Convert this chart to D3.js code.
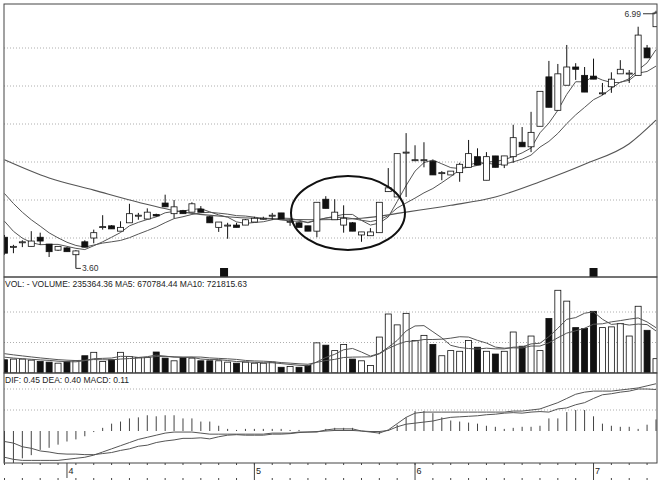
<!DOCTYPE html>
<html><head><meta charset="utf-8">
<script src="https://cdn.jsdelivr.net/npm/d3@7/dist/d3.min.js"></script>
<style>body{margin:0;background:#fff}svg{display:block}text{font-family:"Liberation Sans",Arial,sans-serif}</style>
</head><body><svg id="c" width="660" height="483"></svg>
<script>
const opens  =[4.01,3.88,3.95,3.89,4.01,3.92,3.84,3.87,3.78,3.95,4.00,4.14,4.16,4.09,4.20,4.29,4.25,4.31,4.46,4.32,4.36,4.34,4.38,4.28,4.14,4.16,4.17,4.17,4.21,4.25,4.30,4.33,4.21,4.20,4.16,4.09,4.51,4.24,4.17,4.20,4.04,4.03,4.07,4.61,4.54,5.12,5.03,5.03,5.01,4.86,4.83,4.86,4.93,5.07,4.76,5.08,4.96,5.07,5.26,5.20,5.47,6.12,5.68,6.01,6.25,6.14,6.13,5.91,5.99,6.16,6.17,6.14,6.50,6.78];
const closes =[3.80,3.89,3.95,3.96,3.96,3.82,3.89,3.82,3.83,3.88,4.07,4.15,4.12,4.14,4.32,4.30,4.34,4.29,4.41,4.41,4.32,4.45,4.34,4.20,4.21,4.17,4.14,4.24,4.26,4.26,4.30,4.25,4.22,4.14,4.09,4.47,4.39,4.34,4.26,4.09,4.08,4.08,4.47,4.66,5.11,5.13,5.03,5.03,4.83,4.86,4.88,4.97,5.11,4.96,5.07,4.93,5.08,5.32,5.20,5.39,5.93,5.72,6.16,6.25,6.22,5.92,6.09,5.91,6.09,6.22,6.17,6.67,6.37,6.96];
const highs  =[4.04,3.91,3.97,4.09,4.07,3.92,3.89,3.88,3.84,3.97,4.11,4.30,4.17,4.22,4.45,4.33,4.39,4.32,4.57,4.50,4.37,4.47,4.42,4.29,4.21,4.20,4.20,4.25,4.28,4.28,4.33,4.33,4.24,4.21,4.16,4.47,4.55,4.51,4.43,4.21,4.08,4.13,4.47,4.92,5.11,5.38,5.22,5.26,5.03,4.88,4.88,4.99,5.29,5.18,5.13,5.08,5.08,5.49,5.46,5.66,5.93,6.33,6.29,6.54,6.30,6.25,6.36,6.04,6.18,6.34,6.21,6.78,6.54,6.99];
const lows   =[3.78,3.80,3.88,3.89,3.91,3.75,3.83,3.82,3.60,3.88,3.93,4.11,4.12,4.09,4.20,4.24,4.25,4.28,4.41,4.26,4.32,4.34,4.34,4.20,4.08,3.99,4.14,4.17,4.21,4.24,4.24,4.25,4.16,4.14,4.09,4.01,4.39,4.24,4.07,4.09,3.95,4.03,4.07,4.61,4.54,4.54,5.01,4.93,4.83,4.76,4.83,4.74,4.93,4.96,4.76,4.93,4.92,4.99,5.20,5.13,5.47,5.72,5.68,6.01,6.08,5.92,6.09,5.88,5.91,6.16,6.04,6.14,6.37,6.78];
const priorCloses=[5.20,5.10,4.95,4.80,4.70,4.55,4.40,4.25,4.10];
// long moving average read at sample candles
const longMaIdx=[0,5,10,15,20,25,30,35,40,45,50,55,60,65,70,73];
const longMaVal=[5.03,4.79,4.63,4.47,4.34,4.28,4.25,4.24,4.26,4.34,4.43,4.54,4.74,4.97,5.24,5.55];
const priorVolumes=[420,400,380,350,320,300,280,260,240];
const volumes=[217,228,228,211,189,178,161,189,200,283,339,189,217,339,272,256,256,344,244,200,256,244,200,200,200,178,161,178,161,161,178,94,106,94,122,494,456,367,467,228,200,122,589,967,789,978,533,617,467,283,367,356,533,422,356,311,356,672,439,606,367,894,1356,1178,744,728,1011,744,756,811,606,1094,700,235];
const dif=[-0.25,-0.27,-0.28,-0.28,-0.28,-0.28,-0.28,-0.27,-0.26,-0.25,-0.23,-0.20,-0.17,-0.14,-0.11,-0.08,-0.06,-0.04,-0.02,-0.01,-0.01,-0.01,-0.02,-0.03,-0.03,-0.03,-0.03,-0.03,-0.03,-0.03,-0.02,-0.02,-0.02,-0.01,-0.01,-0.01,0.01,0.02,0.02,0.02,0.00,-0.01,-0.02,0.01,0.07,0.13,0.17,0.18,0.18,0.18,0.18,0.18,0.18,0.18,0.18,0.18,0.18,0.19,0.19,0.20,0.21,0.24,0.27,0.31,0.35,0.37,0.38,0.38,0.38,0.39,0.40,0.41,0.43,0.45];
const macd=[-0.30,-0.31,-0.26,-0.23,-0.18,-0.16,-0.13,-0.10,-0.08,-0.05,-0.01,0.03,0.07,0.09,0.12,0.13,0.15,0.14,0.15,0.15,0.12,0.12,0.09,0.09,0.05,0.02,0.01,0.02,0.02,0.02,0.02,0.02,0.01,0.01,0.00,-0.01,0.02,0.03,0.03,0.03,0.00,-0.01,-0.03,0.01,0.06,0.13,0.19,0.19,0.17,0.13,0.10,0.09,0.08,0.07,0.05,0.04,0.02,0.03,0.04,0.04,0.05,0.12,0.12,0.18,0.20,0.20,0.14,0.07,0.05,0.04,0.04,0.02,0.06,0.11];
const priceGrid=[4.0,4.5,5.0,5.5,6.0,6.5];
const volGrid=[500,1000];
const macdGrid=[0.2,0.4];
const monthLabels=[{i:7,t:"4"},{i:28,t:"5"},{i:46,t:"6"},{i:66,t:"7"}];
const markerIdx=[24.6,66];
const volTitle="VOL: -   VOLUME: 235364.36  MA5: 670784.44  MA10: 721815.63";
const macdTitle="DIF: 0.45  DEA: 0.40  MACD: 0.11";

const svg=d3.select("#c");
const L=4,R=657;
const n=closes.length;
const x=d3.scaleLinear().domain([0,n-1]).range([4.5,656]);
const y=d3.scaleLinear().domain([4,7]).range([238,10]);
const yv=d3.scaleLinear().domain([0,1000]).range([373,312]);
const ym=d3.scaleLinear().domain([0,0.4]).range([431,389]);
const gray="#555";
const defs=svg.append("defs");
[["cm",4,277],["cv",277,373],["cmd",373,463]].forEach(([id,t,b])=>defs.append("clipPath").attr("id",id).append("rect").attr("x",L).attr("y",t).attr("width",R-L).attr("height",b-t));

function grid(g,vals,sc){g.selectAll(null).data(vals).join("line").attr("x1",L).attr("x2",R).attr("y1",d=>sc(d)).attr("y2",d=>sc(d)).attr("stroke","#999").attr("stroke-dasharray","1,2").attr("stroke-width",0.8);}
function ma(arr,k,prior){const all=(prior||[]).concat(arr),off=(prior||[]).length;return arr.map((_,i)=>{const j=i+off;const s=all.slice(Math.max(0,j-k+1),j+1);return d3.mean(s);});}

// main
const gm=svg.append("g").attr("clip-path","url(#cm)");
grid(gm,priceGrid,y);
const line=d3.line().x((d,i)=>x(i)).y(d=>y(d));
[ma(closes,5,priorCloses),ma(closes,10,priorCloses)].forEach(a=>gm.append("path").attr("d",line(a)).attr("fill","none").attr("stroke",gray).attr("stroke-width",1));
gm.append("path").attr("d",d3.line().x((d,k)=>x(longMaIdx[k])).y(d=>y(d)).curve(d3.curveMonotoneX)(longMaVal)).attr("fill","none").attr("stroke",gray).attr("stroke-width",1.1);
const cw=6;
closes.forEach((c,i)=>{
  const o=opens[i],up=c>=o;
  gm.append("line").attr("x1",x(i)).attr("x2",x(i)).attr("y1",y(highs[i])).attr("y2",y(lows[i])).attr("stroke","#111");
  const top=y(Math.max(o,c)),bot=y(Math.min(o,c));
  gm.append("rect").attr("x",x(i)-cw/2).attr("y",top).attr("width",cw).attr("height",Math.max(1,bot-top)).attr("fill",up?"#fff":"#111").attr("stroke","#111").attr("stroke-width",0.8);
});
markerIdx.forEach(m=>gm.append("rect").attr("x",x(m)-4).attr("y",268).attr("width",8).attr("height",9).attr("fill","#111"));
const li=lows.indexOf(d3.min(lows));
gm.append("path").attr("d",`M${x(li)},${y(lows[li])}h5`).attr("stroke","#333");
gm.append("text").attr("x",x(li)+6).attr("y",y(lows[li])+3).attr("font-size",8.5).attr("fill","#333").text(d3.min(lows).toFixed(2));
const hi=highs.indexOf(d3.max(highs));
gm.append("path").attr("d",`M${x(hi)-13},${y(highs[hi])+3}h12v-2`).attr("stroke","#333").attr("fill","none");
gm.append("text").attr("x",x(hi)-15).attr("y",y(highs[hi])+6).attr("text-anchor","end").attr("font-size",8.5).attr("fill","#333").text(d3.max(highs).toFixed(2));
svg.append("ellipse").attr("cx",348).attr("cy",213).attr("rx",57).attr("ry",37).attr("fill","none").attr("stroke","#111").attr("stroke-width",2);

// volume
const gv=svg.append("g").attr("clip-path","url(#cv)");
grid(gv,volGrid,yv);
volumes.forEach((v,i)=>{const up=closes[i]>=opens[i];gv.append("rect").attr("x",x(i)-cw/2).attr("y",yv(v)).attr("width",cw).attr("height",yv(0)-yv(v)).attr("fill",up?"#fff":"#111").attr("stroke","#111").attr("stroke-width",0.8);});
const lv=d3.line().x((d,i)=>x(i)).y(d=>yv(d));
[ma(volumes,5,priorVolumes),ma(volumes,10,priorVolumes)].forEach(a=>gv.append("path").attr("d",lv(a)).attr("fill","none").attr("stroke",gray).attr("stroke-width",1));
svg.append("text").attr("x",5).attr("y",287).attr("font-size",8.5).attr("fill","#222").text(volTitle);

// macd
const gd=svg.append("g").attr("clip-path","url(#cmd)");
grid(gd,macdGrid,ym);
macd.forEach((v,i)=>gd.append("line").attr("x1",x(i)).attr("x2",x(i)).attr("y1",ym(0)).attr("y2",ym(v)).attr("stroke","#444").attr("stroke-width",1));
const dea=dif.map((d,i)=>d-macd[i]/2);
const lm=d3.line().x((d,i)=>x(i)).y(d=>ym(d));
[dif,dea].forEach(a=>gd.append("path").attr("d",lm(a)).attr("fill","none").attr("stroke",gray).attr("stroke-width",1));
svg.append("text").attr("x",5).attr("y",383).attr("font-size",8.5).attr("fill","#222").text(macdTitle);

[[4,277],[277,373],[373,463]].forEach(([t,b])=>svg.append("rect").attr("x",L).attr("y",t).attr("width",R-L).attr("height",b-t).attr("fill","none").attr("stroke","#444").attr("stroke-width",1));
const ga=svg.append("g");
d3.range(0,n,2).forEach(i=>{ga.append("line").attr("x1",x(i)).attr("x2",x(i)).attr("y1",463).attr("y2",465).attr("stroke","#444");ga.append("line").attr("x1",x(i)).attr("x2",x(i)).attr("y1",478).attr("y2",480).attr("stroke","#444");});
monthLabels.forEach(m=>{ga.append("line").attr("x1",x(m.i)).attr("x2",x(m.i)).attr("y1",463).attr("y2",478).attr("stroke","#444");ga.append("text").attr("x",x(m.i)+1.5).attr("y",474).attr("font-size",9).attr("fill","#222").text(m.t);});
</script></body></html>
